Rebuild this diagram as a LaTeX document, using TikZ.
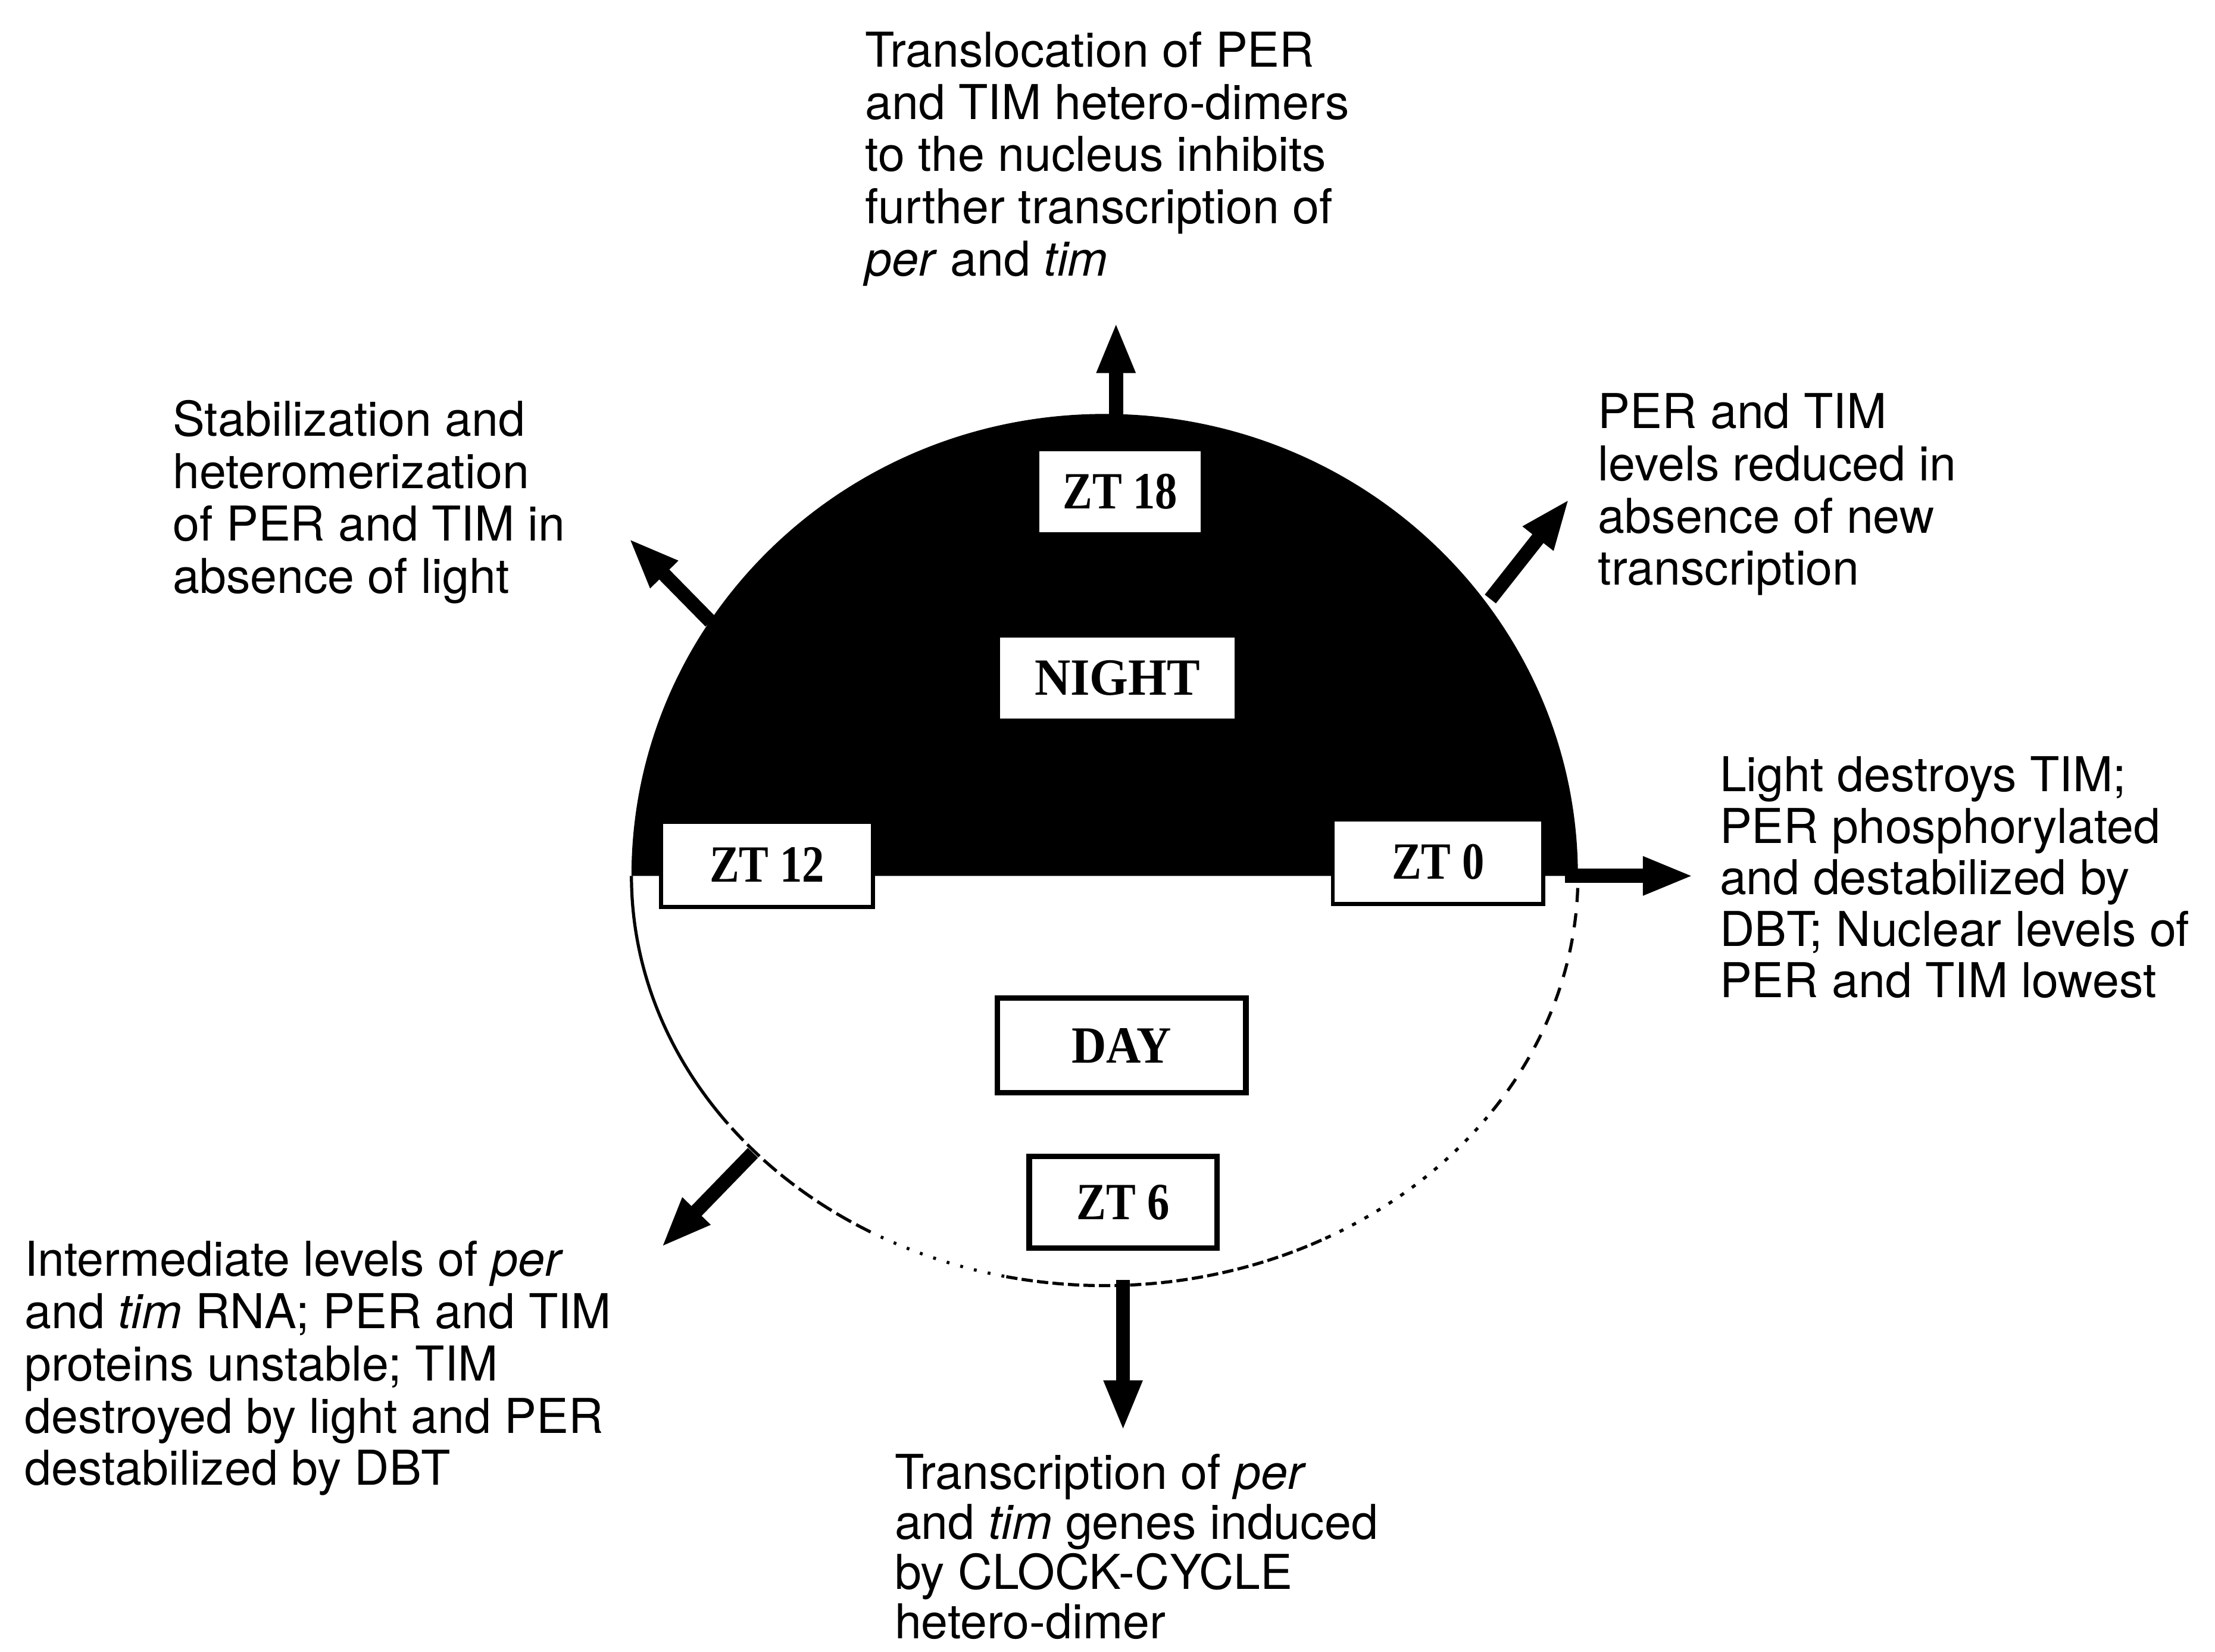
\documentclass[tikz,border=0pt]{standalone}
\usepackage{fontspec}
\usepackage{graphicx}
\setmainfont{TeX Gyre Heros}
\newfontfamily\boxfont{Liberation Serif}
\usetikzlibrary{arrows.meta}
\tikzset{
  lbl/.style={anchor=north west, align=left, inner sep=0pt, font=\fontsize{17}{18.5}\selectfont},
  lblb/.style={lbl, font=\fontsize{17}{17.6}\selectfont},
  zbox/.style={draw, fill=white, line width=1.4pt, inner sep=0pt, font=\boxfont\bfseries\fontsize{18.5}{20}\selectfont},
  thickbox/.style={zbox, line width=2pt},
  bigarrow/.style={line width=5pt, -{Triangle[width=12.5pt,length=18pt]}},
  rim/.style={line width=1.1pt},
}
\newcommand{\cnd}[1]{\scalebox{.85}[1]{#1}}
\begin{document}
\begin{tikzpicture}[x=0.5pt,y=-0.5pt]
\useasboundingbox (0,0) rectangle (1568,1169);
% night dome
\fill[black] (447,620) arc[start angle=180, end angle=0, x radius=167.5pt, y radius=163.5pt] -- cycle;
% day half (lower rim) in pieces
\draw[rim] (447,620) arc[start angle=180, end angle=215, x radius=167.5pt, y radius=145pt] coordinate (l1);
\draw[rim, dash pattern=on 6pt off 2pt] (l1)
  arc[start angle=215, end angle=240, x radius=167.5pt, y radius=145pt] coordinate (l2);
\draw[rim, dash pattern=on 1pt off 4pt] (l2) arc[start angle=240, end angle=258, x radius=167.5pt, y radius=145pt] coordinate (l3);
\draw[rim, dash pattern=on 4pt off 1.5pt] (l3) arc[start angle=258, end angle=298, x radius=167.5pt, y radius=145pt] coordinate (l4);
\draw[rim, dash pattern=on 1.5pt off 3.5pt] (l4) arc[start angle=298, end angle=325, x radius=167.5pt, y radius=145pt] coordinate (l5);
\draw[rim, dash pattern=on 5pt off 4pt] (l5) arc[start angle=325, end angle=360, x radius=167.5pt, y radius=145pt];
% boxes
\node[zbox, minimum width=58.5pt, minimum height=30pt] (zt18) at (793,348) {\cnd{ZT 18}};
\node[zbox, minimum width=84.5pt, minimum height=30pt] (night) at (791,480) {\scalebox{.95}[1]{NIGHT}};
\node[zbox, minimum width=75pt, minimum height=30pt] (zt12) at (543,612) {\cnd{ZT 12}};
\node[zbox, minimum width=74.5pt, minimum height=30pt] (zt0) at (1018,610) {\cnd{ZT 0}};
\node[thickbox, minimum width=88pt, minimum height=33.5pt] (day) at (794,740) {\scalebox{.92}[1]{DAY}};
\node[thickbox, minimum width=66.5pt, minimum height=32.5pt] (zt6) at (795,851) {\cnd{ZT 6}};
% arrow anchors
\coordinate (b18) at (790,300); \coordinate (t18) at (790,228);
\coordinate (bul) at (503,440); \coordinate (tul) at (445,381);
\coordinate (bur) at (1055,424); \coordinate (tur) at (1111,353);
\coordinate (br) at (1108,620); \coordinate (tr) at (1199,620);
\coordinate (bll) at (533,816); \coordinate (tll) at (468,883);
\coordinate (bb) at (795,906); \coordinate (tb) at (795,1013);
\draw[bigarrow] (b18) -- (t18);
\draw[bigarrow] (bul) -- (tul);
\draw[bigarrow] (bur) -- (tur);
\draw[bigarrow] (br) -- (tr);
\draw[bigarrow] (bll) -- (tll);
\draw[bigarrow] (bb) -- (tb);
% texts
\node[lbl] (ttop) at (612,22) {Translocation of PER\\and TIM hetero-dimers\\to the nucleus inhibits\\further transcription of\\\textit{per} and \textit{tim}};
\node[lbl] (txul) at (122,283) {Stabilization and\\heteromerization\\of PER and TIM in\\absence of light};
\node[lbl] (txur) at (1131,278) {PER and TIM\\levels reduced in\\absence of new\\transcription};
\node[lbl, font=\fontsize{17}{18.25}\selectfont] (tright) at (1217,535) {Light destroys TIM;\\PER phosphorylated\\and destabilized by\\DBT; Nuclear levels of\\PER and TIM lowest};
\node[lbl] (txll) at (17,878) {Intermediate levels of \textit{per}\\and \textit{tim} RNA; PER and TIM\\proteins unstable; TIM\\destroyed by light and PER\\destabilized by DBT};
\node[lblb] (tbot) at (633,1029) {Transcription of \textit{per}\\and \textit{tim} genes induced\\by CLOCK-CYCLE\\hetero-dimer};
\end{tikzpicture}
\end{document}
